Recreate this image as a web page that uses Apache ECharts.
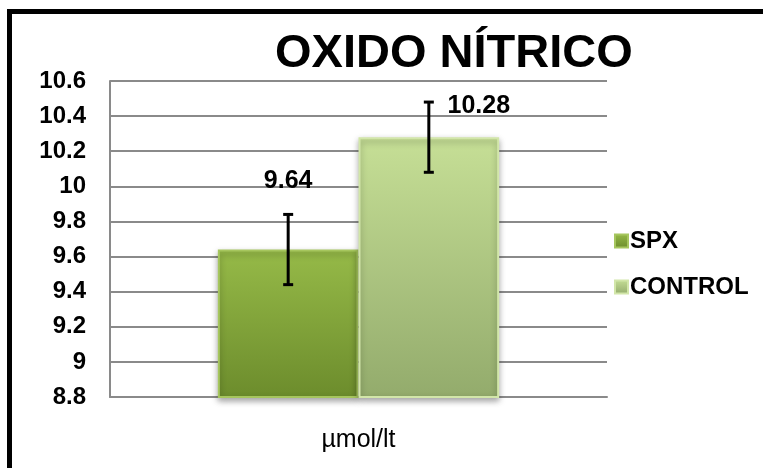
<!DOCTYPE html>
<html>
<head>
<meta charset="utf-8">
<script src="https://cdn.jsdelivr.net/npm/echarts@6/dist/echarts.min.js"></script>
<style>html,body{margin:0;padding:0;background:#fff;}#c{width:763px;height:468px;}</style>
</head>
<body>
<div id="c"></div>
<script>
const titleText = 'OXIDO NÍTRICO';
const categories = ['µmol/lt'];
const seriesNames = ['SPX', 'CONTROL'];
const spxValues = [9.64];
const controlValues = [10.28];
const spxErrors = [0.2];
const controlErrors = [0.2];
const yTicks = { min: 8.8, max: 10.6, step: 0.2 };

const BAR_FRAC = 0.283;
const chart = echarts.init(document.getElementById('c'), null, { renderer: 'canvas' });

function errSeries(values, errors, sign) {
  return {
    type: 'custom',
    z: 10,
    silent: true,
    data: values.map((v, i) => [i, v, errors[i]]),
    renderItem: function (params, api) {
      const idx = api.value(0);
      const v = api.value(1);
      const e = api.value(2);
      const band = api.size([1, 0])[0];
      const off = sign * band * BAR_FRAC / 2;
      const hi = api.coord([idx, v + e]);
      const lo = api.coord([idx, v - e]);
      const x = hi[0] + off;
      const cap = 5;
      const st = { stroke: '#000', lineWidth: 3 };
      return {
        type: 'group',
        children: [
          { type: 'line', shape: { x1: x, y1: hi[1], x2: x, y2: lo[1] }, style: st },
          { type: 'line', shape: { x1: x - cap, y1: hi[1], x2: x + cap, y2: hi[1] }, style: st },
          { type: 'line', shape: { x1: x - cap, y1: lo[1], x2: x + cap, y2: lo[1] }, style: st }
        ]
      };
    }
  };
}

const spxColor = new echarts.graphic.LinearGradient(0, 0, 0, 1, [
  { offset: 0, color: '#96ba48' }, { offset: 1, color: '#6c8c2c' }
]);
const ctlColor = new echarts.graphic.LinearGradient(0, 0, 0, 1, [
  { offset: 0, color: '#c6df96' }, { offset: 1, color: '#93ab6c' }
]);

const labelStyle = { show: true, position: 'top', color: '#000', fontFamily: 'Liberation Sans, Arial, sans-serif', fontWeight: 'bold', fontSize: 25 };

chart.setOption({
  animation: false,
  backgroundColor: '#fff',
  title: {
    text: titleText,
    left: 270, top: 26,
    textStyle: { fontFamily: 'Liberation Sans, Arial, sans-serif', fontWeight: 'bold', fontSize: 47, color: '#000' }
  },
  legend: {
    orient: 'vertical',
    left: 609, top: 224,
    itemWidth: 13, itemHeight: 13, itemGap: 22,
    icon: 'rect',
    data: seriesNames,
    textStyle: { fontFamily: 'Liberation Sans, Arial, sans-serif', fontWeight: 'bold', fontSize: 24, color: '#000', padding: [0, 0, 0, -3] }
  },
  grid: { left: 110, right: 156, top: 81, bottom: 71 },
  xAxis: {
    type: 'category',
    data: categories,
    axisTick: { show: false },
    axisLine: { lineStyle: { color: '#8a8a8a', width: 2 } },
    axisLabel: { margin: 31, color: '#000', fontFamily: 'Liberation Sans, Arial, sans-serif', fontSize: 25 }
  },
  yAxis: {
    type: 'value',
    min: yTicks.min, max: yTicks.max, interval: yTicks.step,
    axisLine: { show: true, lineStyle: { color: '#8a8a8a', width: 2 } },
    axisTick: { show: false },
    splitLine: { lineStyle: { color: '#8a8a8a', width: 2 } },
    axisLabel: {
      margin: 24, color: '#000', fontFamily: 'Liberation Sans, Arial, sans-serif', fontWeight: 'bold', fontSize: 24,
      formatter: v => String(Math.round(v * 10) / 10)
    }
  },
  series: [
    {
      name: seriesNames[0], type: 'bar', barWidth: (BAR_FRAC * 100) + '%', barGap: '0%',
      itemStyle: { color: spxColor, borderColor: '#a6c65e', borderWidth: 2, shadowColor: 'rgba(0,0,0,0.35)', shadowBlur: 6, shadowOffsetY: 3 },
      label: Object.assign({}, labelStyle, { offset: [0, -51] }),
      data: spxValues
    },
    {
      name: seriesNames[1], type: 'bar', barWidth: (BAR_FRAC * 100) + '%', barGap: '0%',
      itemStyle: { color: ctlColor, borderColor: '#d2e6a9', borderWidth: 2, shadowColor: 'rgba(0,0,0,0.35)', shadowBlur: 6, shadowOffsetY: 3 },
      label: Object.assign({}, labelStyle, { offset: [50, -14] }),
      data: controlValues
    },
    errSeries(spxValues, spxErrors, -1),
    errSeries(controlValues, controlErrors, 1)
  ],
  graphic: [
    { type: 'rect', z: 100, silent: true, shape: { x: 9.5, y: 11.5, width: 800, height: 500 }, style: { fill: null, stroke: '#000', lineWidth: 5 } }
  ]
});
</script>
</body>
</html>
